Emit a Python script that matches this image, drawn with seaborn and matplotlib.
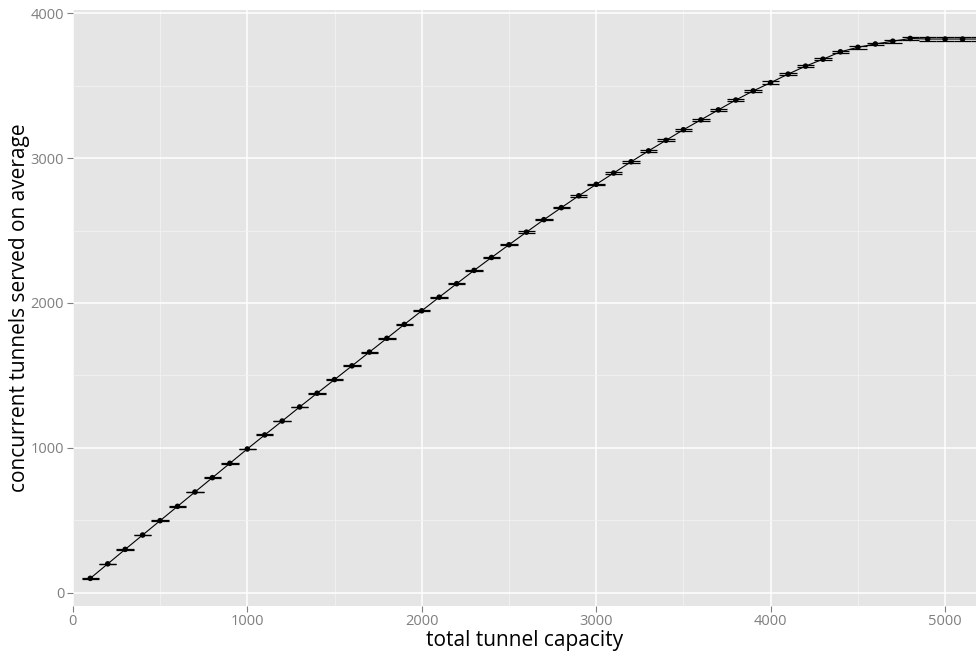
import matplotlib
matplotlib.use("Agg")
import matplotlib.pyplot as plt
from matplotlib.ticker import MultipleLocator
import pandas as pd
import seaborn as sns

# total tunnel capacity tested
capacity = [100, 200, 300, 400, 500, 600, 700, 800, 900, 1000,
            1100, 1200, 1300, 1400, 1500, 1600, 1700, 1800, 1900, 2000,
            2100, 2200, 2300, 2400, 2500, 2600, 2700, 2800, 2900, 3000,
            3100, 3200, 3300, 3400, 3500, 3600, 3700, 3800, 3900, 4000,
            4100, 4200, 4300, 4400, 4500, 4600, 4700, 4800, 4900, 5000,
            5100, 5200]

# mean number of concurrent tunnels served
served = [99, 199, 299, 398, 497, 596, 695, 794, 893, 992,
          1089, 1185, 1282, 1377, 1471, 1566, 1661, 1756, 1852, 1946,
          2040, 2133, 2225, 2314, 2402, 2489, 2575, 2658, 2740, 2819,
          2897, 2975, 3050, 3123, 3196, 3264, 3333, 3401, 3464, 3521,
          3580, 3635, 3683, 3734, 3765, 3788, 3807, 3826, 3822, 3822,
          3822, 3822]

# half-width of the confidence interval around each mean
spread = [2, 2, 2, 2, 2, 2, 2, 2, 2, 2,
          3, 3, 3, 3, 3, 3, 3, 3, 3, 4,
          4, 4, 4, 4, 4, 5, 5, 5, 5, 5,
          6, 6, 6, 6, 7, 7, 8, 8, 8, 8,
          8, 8, 8, 8, 9, 9, 9, 11, 16, 16,
          16, 16]

df = pd.DataFrame({"capacity": capacity, "served": served, "spread": spread})
df["lo"] = df["served"] - df["spread"]
df["hi"] = df["served"] + df["spread"]

sns.set_style("darkgrid", {
    "axes.facecolor": "#E5E5E5",
    "grid.color": "white",
    "axes.edgecolor": "#E5E5E5",
})
plt.rcParams["font.family"] = ["Open Sans", "DejaVu Sans"]

fig = plt.figure(figsize=(9.76, 6.53), dpi=100)
ax = fig.add_axes([72.5 / 976, 47 / 653, 1 - 72.5 / 976, (606 - 9.5) / 653])

# error bars: vertical segment plus caps spanning +/-50 capacity units
cap_half = 50
ax.vlines(df["capacity"], df["lo"], df["hi"], color="black", lw=0.8, zorder=3)
ax.hlines(df["lo"], df["capacity"] - cap_half, df["capacity"] + cap_half,
          color="black", lw=0.9, zorder=3)
ax.hlines(df["hi"], df["capacity"] - cap_half, df["capacity"] + cap_half,
          color="black", lw=0.9, zorder=3)

sns.lineplot(data=df, x="capacity", y="served", color="black", lw=0.8,
             ax=ax, zorder=4)
sns.scatterplot(data=df, x="capacity", y="served", color="black", s=16,
                edgecolor="none", ax=ax, zorder=5)

ax.set_xlim(-2, 5177)
ax.set_ylim(-92, 4026)
ax.xaxis.set_major_locator(MultipleLocator(1000))
ax.xaxis.set_minor_locator(MultipleLocator(500))
ax.yaxis.set_major_locator(MultipleLocator(1000))
ax.yaxis.set_minor_locator(MultipleLocator(500))
ax.grid(which="major", color="white", lw=1.1)
ax.grid(which="minor", color="#F2F2F2", lw=0.6)
ax.set_axisbelow(True)
for s in ax.spines.values():
    s.set_visible(False)

ax.tick_params(which="major", length=4, width=0.8, color="#7F7F7F",
               labelcolor="#7F7F7F", labelsize=10.5, pad=2, direction="out",
               bottom=True, left=True)
ax.tick_params(which="minor", length=0)

ax.set_xlabel("total tunnel capacity", fontsize=15, color="black")
ax.set_ylabel("concurrent tunnels served on average", fontsize=15,
              color="black")
ax.xaxis.set_label_coords(0.5, -0.040)
ax.yaxis.set_label_coords(-0.047, 0.5)

fig.savefig("out.png", dpi=100)
